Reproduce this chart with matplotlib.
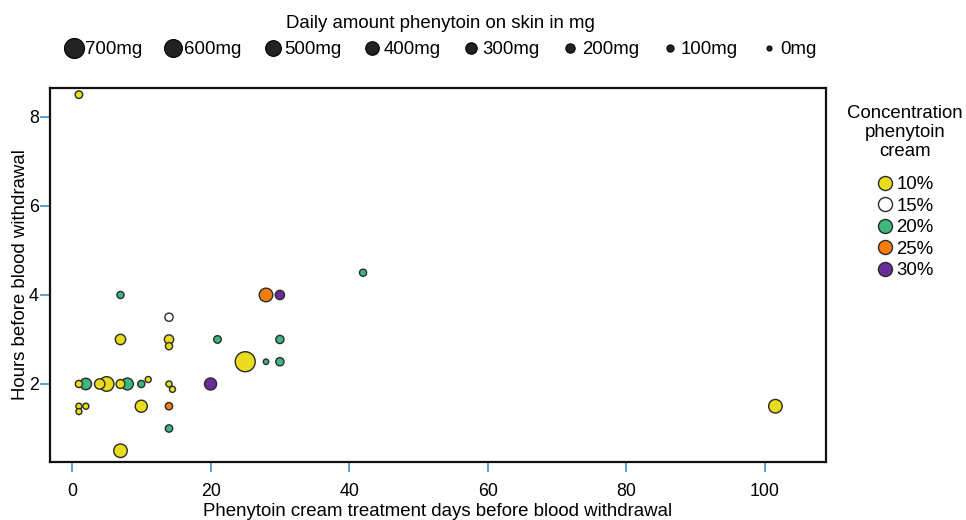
import matplotlib
matplotlib.use("Agg")
import matplotlib.pyplot as plt
from matplotlib.lines import Line2D

plt.rcParams['font.family'] = ['Liberation Sans', 'DejaVu Sans']

# data
days = [1, 7, 42, 28, 30, 14, 7, 14, 14, 21, 30, 25, 28, 30, 1, 2, 4, 5, 7, 8,
        10, 11, 14, 14.5, 20, 1, 2, 1, 10, 14, 14, 7, 101.5]
hours = [8.5, 4, 4.5, 4, 4, 3.5, 3, 3, 2.85, 3, 3, 2.5, 2.5, 2.5, 2, 2, 2, 2, 2, 2,
         2, 2.1, 2, 1.88, 2, 1.5, 1.5, 1.38, 1.5, 1.5, 1, 0.5, 1.5]
conc = [10, 20, 20, 25, 30, 15, 10, 10, 10, 20, 20, 10, 20, 20, 10, 20, 10, 10, 10, 20,
        20, 10, 10, 10, 30, 10, 10, 10, 10, 25, 20, 10, 10]
mg = [120, 100, 100, 400, 200, 150, 250, 200, 100, 120, 150, 700, 20, 150, 100, 300, 250, 450, 180, 320,
      100, 50, 50, 50, 330, 50, 50, 50, 330, 110, 110, 400, 400]

conc_levels = [10, 15, 20, 25, 30]
conc_labels = ['10%', '15%', '20%', '25%', '30%']
conc_colors = {10: '#e8dc1c', 15: '#ffffff', 20: '#3cb87f', 25: '#f77c0a', 30: '#6a2c98'}

size_levels = [700, 600, 500, 400, 300, 200, 100, 0]
size_labels = ['700mg', '600mg', '500mg', '400mg', '300mg', '200mg', '100mg', '0mg']

FS = 13.4


def diam_pt(m):
    # marker diameter in points (pixels at 100 dpi * 0.72)
    return (5 + m * 15.0 / 700) * 0.72


fig = plt.figure(figsize=(9.66, 5.2), dpi=100)
ax = fig.add_axes([50 / 966, 58 / 520, 776 / 966, 374 / 520])

order = sorted(range(len(days)), key=lambda i: -mg[i])
ax.scatter([days[i] for i in order], [hours[i] for i in order],
           s=[diam_pt(mg[i]) ** 2 for i in order],
           c=[conc_colors[conc[i]] for i in order],
           edgecolors='#2b2b2b', linewidths=1.0, zorder=3)

ax.set_xlim(-3.17, 108.8)
ax.set_ylim(0.247, 8.65)
ax.set_xticks([0, 20, 40, 60, 80, 100])
ax.set_yticks([2, 4, 6, 8])
ax.tick_params(axis='both', direction='out', length=7, width=1.2,
               color='#3a8fd0', labelsize=FS - 0.6)
ax.tick_params(axis='x', pad=8)
ax.tick_params(axis='y', pad=1)
for sp in ax.spines.values():
    sp.set_linewidth(1.6)
    sp.set_color('#111111')

ax.set_xlabel('Phenytoin cream treatment days before blood withdrawal', fontsize=FS, labelpad=2)
ax.set_ylabel('Hours before blood withdrawal', fontsize=FS, labelpad=0)

# size legend on top
size_handles = [Line2D([], [], linestyle='none', marker='o', markersize=diam_pt(m),
                       markerfacecolor='#222222', markeredgecolor='#000000', markeredgewidth=0.8)
                for m in size_levels]
leg1 = fig.legend(size_handles, size_labels, loc='upper center', bbox_to_anchor=(0.456, 1.0),
                  ncol=8, frameon=False, fontsize=FS, title='Daily amount phenytoin on skin in mg',
                  title_fontsize=FS, handletextpad=0.1, columnspacing=1.16, handlelength=1.0,
                  borderaxespad=0.4)

# concentration legend on the right
conc_handles = [Line2D([], [], linestyle='none', marker='o', markersize=diam_pt(420),
                       markerfacecolor=conc_colors[c], markeredgecolor='#2b2b2b', markeredgewidth=1.0)
                for c in conc_levels]
leg2 = fig.legend(conc_handles, conc_labels, loc='upper center', bbox_to_anchor=(905 / 966, 1 - 88 / 520),
                  frameon=False, fontsize=FS, title='Concentration\nphenytoin\ncream',
                  title_fontsize=FS, handletextpad=0.1, handlelength=1.0, labelspacing=0.24)
leg2.get_title().set_multialignment('center')
leg2.get_title().set_linespacing(1.15)
leg2._legend_box.sep = 12

fig.savefig('out.png', dpi=100)
